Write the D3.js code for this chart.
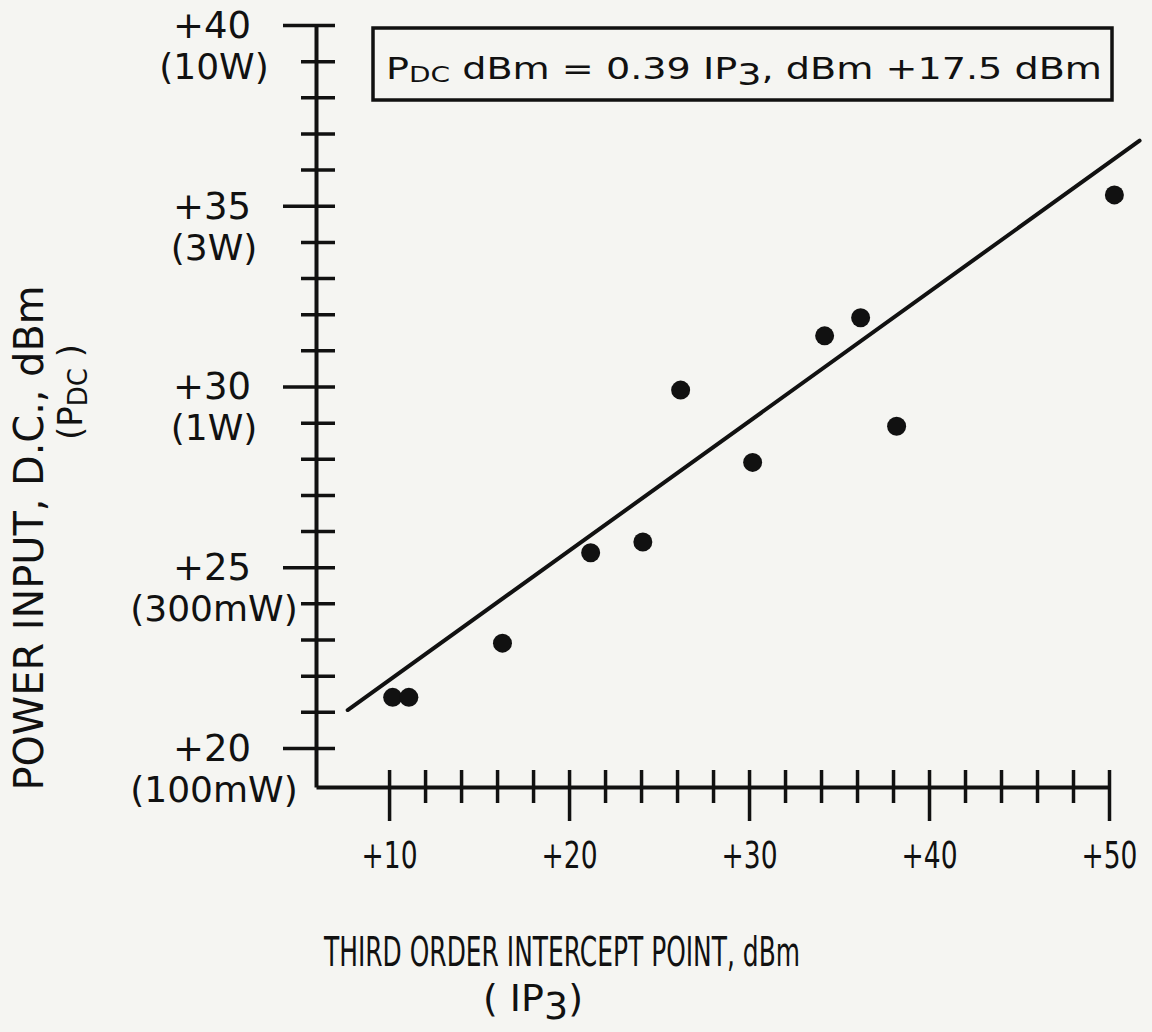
<!DOCTYPE html>
<html>
<head>
<meta charset="utf-8">
<script src="https://cdn.jsdelivr.net/npm/d3@7"></script>
<style>
body { margin: 0; background: #f5f5f2; }
svg text { font-family: "DejaVu Sans", sans-serif; fill: #111; }
.axis path, .axis line { stroke: #111; }
</style>
</head>
<body>
<div id="chart"></div>
<script>
// points: third order intercept (dBm) vs DC input power (dBm)
var ip3 = [10.2, 11.1, 16.3, 21.2, 24.1, 26.2, 30.2, 34.2, 36.2, 38.2, 50.3];
var pdc = [21.4, 21.4, 22.9, 25.4, 25.7, 29.9, 27.9, 31.4, 31.9, 28.9, 35.3];

// the straight line as it is drawn (end points)
var fitX = [7.7, 51.7];
var fitY = [21.05, 36.8];

var xTicks = [10, 20, 30, 40, 50];
var xTickLabels = ["+10", "+20", "+30", "+40", "+50"];
var yTicks = [20, 25, 30, 35, 40];
var yTickLabels = ["+20", "+25", "+30", "+35", "+40"];
var yPowerLabels = ["(100mW)", "(300mW)", "(1W)", "(3W)", "(10W)"];

var width = 1152, height = 1032;
var ink = "#111";

var svg = d3.select("#chart").append("svg")
    .attr("width", width)
    .attr("height", height);

var x = d3.scaleLinear().domain([5.94, 50]).range([316, 1109]);
var y = d3.scaleLinear().domain([18.92, 40]).range([787, 25]);

// x axis: minor ticks every 2 dB, major every 10 dB, ticks cross the line
var xMinor = svg.append("g").attr("class", "axis")
    .attr("transform", "translate(0," + y(18.92) + ")")
    .call(d3.axisBottom(x)
        .tickValues(d3.range(12, 50, 2).filter(function (v) { return v % 10 != 0; }))
        .tickSize(16).tickSizeOuter(0).tickFormat(""));
xMinor.select(".domain").remove();
xMinor.selectAll(".tick line").attr("y1", -17).attr("stroke-width", 3.5);

var xMajor = svg.append("g").attr("class", "axis")
    .attr("transform", "translate(0," + y(18.92) + ")")
    .call(d3.axisBottom(x)
        .tickValues(xTicks)
        .tickSize(34).tickSizeOuter(0)
        .tickFormat(function (d, i) { return xTickLabels[i]; }));
xMajor.select(".domain").attr("stroke-width", 4);
xMajor.selectAll(".tick line").attr("y1", -17).attr("stroke-width", 3.5);
xMajor.selectAll(".tick text")
    .attr("y", 81).attr("dy", 0)
    .attr("font-size", 37)
    .attr("fill", ink)
    .attr("textLength", 56)
    .attr("lengthAdjust", "spacingAndGlyphs");

// y axis: minor every 1 dB, major every 5 dB
var yMinor = svg.append("g").attr("class", "axis")
    .attr("transform", "translate(" + x(5.94) + ",0)")
    .call(d3.axisLeft(y)
        .tickValues(d3.range(20, 41).filter(function (v) { return v % 5 != 0; }))
        .tickSize(15).tickSizeOuter(0).tickFormat(""));
yMinor.select(".domain").remove();
yMinor.selectAll(".tick line").attr("x1", 19).attr("stroke-width", 3.5);

var yMajor = svg.append("g").attr("class", "axis")
    .attr("transform", "translate(" + x(5.94) + ",0)")
    .call(d3.axisLeft(y)
        .tickValues(yTicks)
        .tickSize(33).tickSizeOuter(0).tickFormat(""));
yMajor.select(".domain").attr("stroke-width", 4);
yMajor.selectAll(".tick line").attr("x1", 19).attr("stroke-width", 3.5);

// two line y labels: dBm value and the power in watts
var yLab = svg.append("g").selectAll("g")
    .data(yTicks)
    .enter().append("g");
yLab.append("text")
    .attr("x", 212)
    .attr("y", function (d) { return y(d) + 13; })
    .attr("text-anchor", "middle")
    .attr("font-size", 37)
    .text(function (d, i) { return yTickLabels[i]; });
yLab.append("text")
    .attr("x", 214)
    .attr("y", function (d) { return y(d) + 54; })
    .attr("text-anchor", "middle")
    .attr("font-size", 36)
    .text(function (d, i) { return yPowerLabels[i]; });

// fitted line
svg.append("line")
    .attr("x1", x(fitX[0])).attr("y1", y(fitY[0]))
    .attr("x2", x(fitX[1])).attr("y2", y(fitY[1]))
    .attr("stroke", ink)
    .attr("stroke-width", 4)
    .attr("stroke-linecap", "round");

// data points
svg.append("g").selectAll("circle")
    .data(ip3)
    .enter().append("circle")
    .attr("cx", function (d) { return x(d); })
    .attr("cy", function (d, i) { return y(pdc[i]); })
    .attr("r", 9.5)
    .attr("fill", ink);

// equation box
svg.append("rect")
    .attr("x", 373).attr("y", 28)
    .attr("width", 739).attr("height", 72)
    .attr("fill", "none")
    .attr("stroke", ink)
    .attr("stroke-width", 3.5);

var eq = svg.append("text")
    .attr("x", 386).attr("y", 79)
    .attr("font-size", 30)
    .attr("textLength", 716)
    .attr("lengthAdjust", "spacingAndGlyphs");
eq.append("tspan").text("P");
eq.append("tspan").attr("font-size", 22).attr("dy", 3).text("DC");
eq.append("tspan").attr("dy", -3).text(" dBm = 0.39 IP");
eq.append("tspan").attr("dy", 6).text("3");
eq.append("tspan").attr("dy", -6).text(", dBm +17.5 dBm");

// x title
svg.append("text")
    .attr("x", 562).attr("y", 966)
    .attr("text-anchor", "middle")
    .attr("font-size", 40)
    .attr("textLength", 476)
    .attr("lengthAdjust", "spacingAndGlyphs")
    .text("THIRD ORDER INTERCEPT POINT, dBm");
var ipt = svg.append("text")
    .attr("x", 533).attr("y", 1011)
    .attr("text-anchor", "middle")
    .attr("font-size", 38);
ipt.append("tspan").text("( IP");
ipt.append("tspan").attr("dy", 8).text("3");
ipt.append("tspan").attr("dy", -8).text(")");

// y title, rotated
svg.append("text")
    .attr("transform", "translate(43,538) rotate(-90)")
    .attr("text-anchor", "middle")
    .attr("font-size", 40)
    .attr("textLength", 505)
    .attr("lengthAdjust", "spacingAndGlyphs")
    .text("POWER INPUT, D.C., dBm");
var pt = svg.append("text")
    .attr("transform", "translate(82,392) rotate(-90)")
    .attr("text-anchor", "middle")
    .attr("font-size", 34);
pt.append("tspan").text("(P");
pt.append("tspan").attr("font-size", 26).attr("dy", 5).text("DC");
pt.append("tspan").attr("dy", -5).text(" )");
</script>
</body>
</html>
